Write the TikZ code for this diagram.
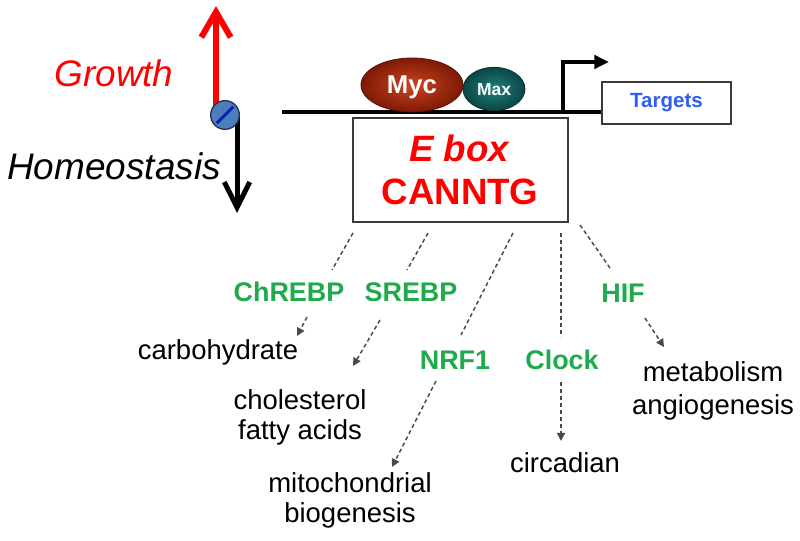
\documentclass[tikz,border=0pt]{standalone}
\usepackage{fontspec}
\setmainfont{Liberation Sans}
\usetikzlibrary{arrows.meta,shapes.geometric}
\definecolor{tfgreen}{HTML}{1FAA4C}
\definecolor{tblue}{HTML}{2F5FF0}
\definecolor{dashgray}{HTML}{4A4A4A}
\definecolor{boxgray}{HTML}{3A3A3A}
\definecolor{mycin}{HTML}{CC4420}
\definecolor{mycout}{HTML}{7E1A06}
\definecolor{maxin}{HTML}{20807D}
\definecolor{maxout}{HTML}{0B4646}
\definecolor{circblue}{HTML}{4C7EBE}
\definecolor{circedge}{HTML}{22344F}
\definecolor{stripeblue}{HTML}{0B22B0}
\begin{document}
\begin{tikzpicture}[x=0.75pt,y=-0.75pt,
  lbl/.style={inner sep=0pt, align=center, font=\fontsize{20.6}{22.5}\selectfont},
  tf/.style={inner sep=0pt, anchor=base, text=tfgreen, font=\fontsize{20.2}{24}\selectfont\bfseries},
  dline/.style={draw=dashgray, line width=1.1pt, dash pattern=on 3pt off 2.2pt},
  darrow/.style={dline, -{Triangle[length=6pt,width=6pt]}},
  boxed/.style={draw=boxgray, line width=1.5pt, inner sep=0pt, fill=white},
  bigital/.style={inner sep=0pt, anchor=base, font=\fontsize{27.7}{30}\selectfont\itshape},
  eboxtxt/.style={inner sep=0pt, anchor=base, text=red, font=\fontsize{27.5}{30}\selectfont\bfseries},
  protein/.style={ellipse, inner sep=0pt, text=white, text depth=0pt, draw=#1!70!black, line width=0.6pt},
]
\useasboundingbox (0,0) rectangle (800,541);

% growth / homeostasis switch
\coordinate (rbase) at (216,112);
\coordinate (rtip) at (216,6);
\coordinate (bbase) at (237,113);
\coordinate (btip) at (237,213);
\draw[red, line width=4.5pt, -{Straight Barb[length=19pt,width=22pt]}] (rbase) -- (rtip);
\draw[black, line width=3.75pt, -{Straight Barb[length=19pt,width=19pt]}] (bbase) -- (btip);
\node[circle, fill=circblue, draw=circedge, line width=1pt, minimum size=21.5pt, inner sep=0pt] (switch) at (225,115) {};
\draw[stripeblue, line width=2.2pt, shorten <=2.5pt, shorten >=2.5pt] (switch.south west) -- (switch.north east);
\node[bigital, text=red] (growth) at (114,87) {Growth};
\node[bigital] (homeo) at (114,180) {Homeostasis};

% DNA line, promoter, targets
\node[boxed, minimum width=96.75pt, minimum height=31.5pt, text=tblue,
      font=\fontsize{15.4}{18}\selectfont\bfseries] (targets) at (666.5,103) {Targets};
\coordinate (lstart) at (282,112);
\draw[line width=2.5pt] (lstart) -- (lstart -| targets.west);
\coordinate (pbase) at (563,112);
\coordinate (ptip) at (609,62);
\draw[line width=2.6pt, -{Triangle[length=11pt,width=10pt]}] (pbase) |- (ptip);

% Myc / Max
\node[protein=mycout, shade, inner color=mycin, outer color=mycout,
      minimum width=76.5pt, minimum height=40.5pt,
      font=\fontsize{19.3}{22}\selectfont\bfseries] (myc) at (412,85) {Myc};
\node[protein=maxout, shade, inner color=maxin, outer color=maxout,
      minimum width=46.5pt, minimum height=32.5pt,
      font=\fontsize{13.1}{15}\selectfont\bfseries] (max) at (494,89) {Max};

% E box
\node[boxed, minimum width=161.25pt, minimum height=78pt] (ebox) at (460.5,170) {};
\node[eboxtxt, font=\fontsize{27.5}{30}\selectfont\bfseries\itshape] (eboxname) at (459,162) {E box};
\node[eboxtxt] (eboxseq) at (460,205) {CANNTG};

% transcription factors
\node[tf] (chrebp) at (289,302) {ChREBP};
\node[tf] (srebp) at (411,302) {SREBP};
\node[tf] (hif) at (623,303) {HIF};
\node[tf] (nrf) at (455,370) {NRF1};
\node[tf] (clock) at (562,370) {Clock};

% targets of the factors
\node[lbl, anchor=base] (carb) at (218,360) {carbohydrate};
\node[lbl, anchor=north] (chol) at (300,389) {cholesterol\\fatty acids};
\node[lbl, anchor=north] (mito) at (350,472) {mitochondrial\\biogenesis};
\node[lbl, anchor=base] (circad) at (565,473) {circadian};
\node[lbl, anchor=north, font=\fontsize{20.6}{24.7}\selectfont] (metab) at (713,361) {metabolism\\angiogenesis};

% dashed links
\coordinate (d1a) at (353,233); \coordinate (d1b) at (332,270);
\coordinate (d2a) at (428,233); \coordinate (d2b) at (407,270);
\coordinate (d3a) at (513,233); \coordinate (d3b) at (461,335);
\coordinate (d4a) at (561,233); \coordinate (d4b) at (561,337);
\coordinate (d5a) at (580,225); \coordinate (d5b) at (610,268);
\draw[dline] (d1a) -- (d1b);
\draw[dline] (d2a) -- (d2b);
\draw[dline] (d3a) -- (d3b);
\draw[dline] (d4a) -- (d4b);
\draw[dline] (d5a) -- (d5b);

\coordinate (a1a) at (307,317); \coordinate (a1b) at (297,336);
\coordinate (a2a) at (380,320); \coordinate (a2b) at (353,366);
\coordinate (a3a) at (436,381); \coordinate (a3b) at (392,467);
\coordinate (a4a) at (561,382); \coordinate (a4b) at (561,441);
\coordinate (a5a) at (645,318); \coordinate (a5b) at (664,347);
\draw[darrow] (a1a) -- (a1b);
\draw[darrow] (a2a) -- (a2b);
\draw[darrow] (a3a) -- (a3b);
\draw[darrow] (a4a) -- (a4b);
\draw[darrow] (a5a) -- (a5b);
\end{tikzpicture}
\end{document}
